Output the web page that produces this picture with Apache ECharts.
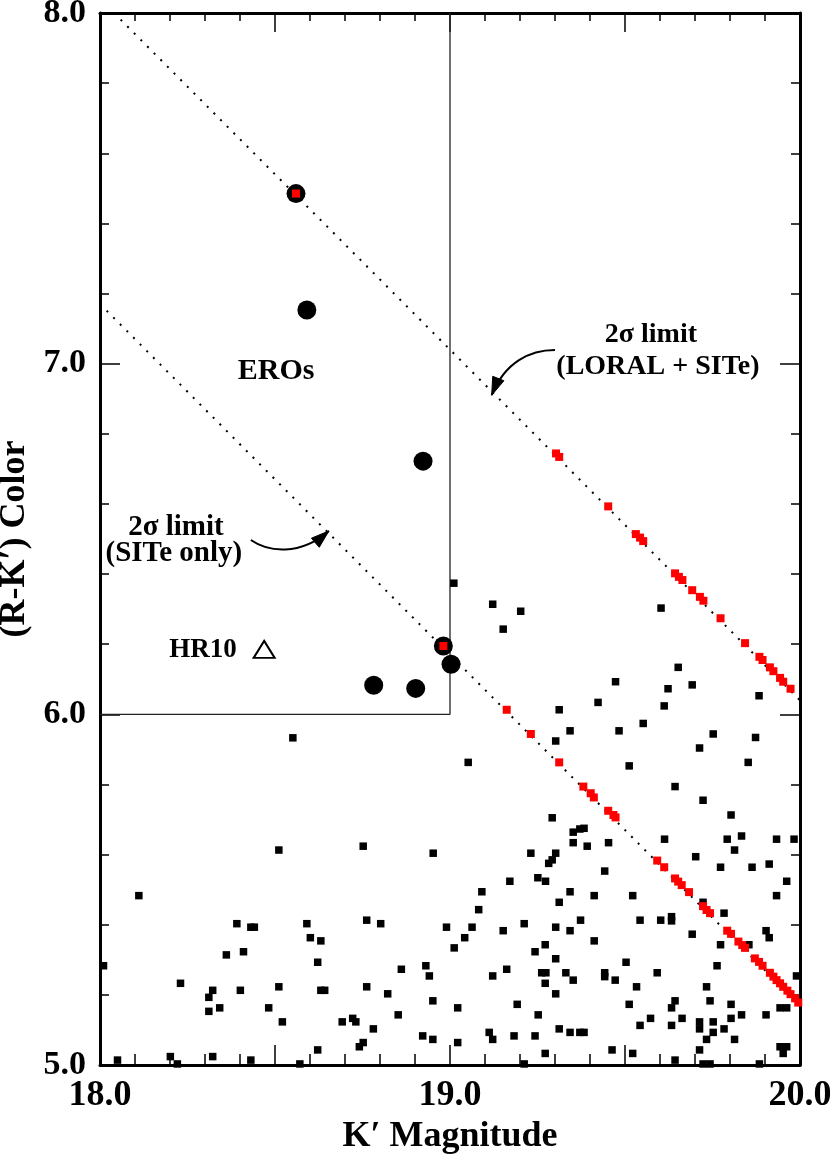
<!DOCTYPE html>
<html><head><meta charset="utf-8">
<script src="https://cdn.jsdelivr.net/npm/echarts@6/dist/echarts.min.js"></script>
<style>html,body{margin:0;padding:0;background:#fff}#c{width:830px;height:1162px}</style>
</head><body><div id="c"></div>
<script>
// ---------- data ----------
const xLabelValues = [18, 19, 20];
const xLabelTexts = ['18.0', '19.0', '20.0'];
const yLabelValues = [5, 6, 7, 8];
const yLabelTexts = ['5.0', '6.0', '7.0', '8.0'];
const xTitle = 'K\u2032 Magnitude';
const yTitle = '(R-K\u2032) Color';

// field objects (black squares): [K', R-K']
const fieldObjects = [
  [18.551,5.933],
  [19.011,6.374],[19.122,6.314],[19.202,6.294],[19.152,6.243],[19.603,6.303],[19.652,6.134],[19.623,6.073],
  [19.692,6.084],[19.883,6.053],[19.473,6.093],[19.423,6.034],[19.612,6.024],[19.312,6.013],[19.343,5.953],
  [19.483,5.953],[19.552,5.974],[19.302,5.924],[19.752,5.944],[19.873,5.934],[19.713,5.904],[19.052,5.863],
  [19.512,5.853],[19.852,5.863],[19.643,5.794],[19.723,5.755],[19.803,5.713],[19.292,5.705],
  [19.352,5.664],[19.371,5.673],[19.383,5.675],[19.352,5.634],[19.392,5.624],[19.453,5.634],[19.613,5.644],
  [19.792,5.644],[19.833,5.653],[19.813,5.613],[19.933,5.644],[19.983,5.644],[19.231,5.604],[19.302,5.604],
  [19.292,5.585],[19.282,5.575],[19.702,5.594],[19.773,5.564],[19.863,5.564],[19.912,5.573],[19.442,5.553],
  [19.171,5.524],[19.251,5.534],[19.273,5.524],[19.962,5.524],[19.091,5.494],[19.343,5.494],[19.412,5.483],
  [19.522,5.483],[19.933,5.483],[19.312,5.464],[19.082,5.443],[19.723,5.464],[19.783,5.433],[19.543,5.413],
  [19.602,5.413],[19.633,5.423],[19.633,5.411],[19.373,5.413],[18.990,5.393],[19.063,5.393],[19.042,5.363],
  [19.012,5.334],[19.152,5.383],[19.212,5.403],[19.302,5.393],[19.343,5.383],[19.412,5.354],[19.692,5.373],
  [19.903,5.383],[19.912,5.363],[19.773,5.343],[19.854,5.343],[19.272,5.343],[19.243,5.323],[19.302,5.303],
  [19.503,5.293],[19.763,5.283],[19.162,5.273],[19.122,5.254],[19.262,5.263],[19.274,5.263],[19.272,5.233],
  [19.331,5.263],[19.352,5.242],[19.442,5.263],[19.442,5.252],[19.472,5.242],[19.592,5.263],[19.990,5.254],
  [19.533,5.223],[19.733,5.223],[19.302,5.203],[19.022,5.163],[19.192,5.173],[19.512,5.173],[19.643,5.183],
  [19.633,5.163],[19.743,5.183],[19.803,5.173],[19.943,5.163],[19.962,5.163],[19.252,5.143],[19.573,5.133],
  [19.663,5.133],[19.833,5.143],[19.903,5.143],[19.803,5.133],[19.543,5.113],[19.633,5.113],[19.713,5.123],
  [19.713,5.103],[19.752,5.123],[19.752,5.093],[19.783,5.103],[19.112,5.093],[19.122,5.073],[19.183,5.083],
  [19.243,5.083],[19.312,5.103],[19.343,5.093],[19.371,5.093],[19.383,5.093],[19.733,5.073],[19.813,5.073],
  [19.022,5.064],[19.272,5.033],[19.463,5.043],[19.522,5.033],[19.713,5.043],[19.943,5.052],[19.962,5.052],
  [19.952,5.033],[19.212,5.003],[19.643,5.014],[19.723,5.003],[19.743,5.003],[19.884,5.003],
  [18.511,5.613],[18.752,5.624],[18.952,5.604],[18.111,5.483],[18.391,5.403],[18.431,5.393],[18.441,5.393],
  [18.591,5.403],[18.762,5.413],[18.802,5.403],[18.601,5.363],[18.631,5.354],[18.361,5.314],[18.410,5.323],
  [18.622,5.293],[18.010,5.283],[18.861,5.273],[18.931,5.283],[18.941,5.254],[18.230,5.233],[18.311,5.193],
  [18.322,5.213],[18.401,5.213],[18.511,5.223],[18.631,5.213],[18.642,5.213],[18.762,5.223],[18.822,5.203],
  [18.311,5.153],[18.342,5.163],[18.482,5.163],[18.951,5.183],[18.521,5.123],[18.692,5.123],[18.722,5.133],
  [18.731,5.123],[18.781,5.103],[18.852,5.143],[18.622,5.043],[18.741,5.052],[18.752,5.064],[18.922,5.083],
  [18.951,5.073],[18.050,5.014],[18.201,5.024],[18.221,5.003],[18.322,5.024],[18.431,5.014],[18.571,5.003]
];

// objects at the colour limit (red squares)
const limitObjects = [
  [19.303,6.744],[19.312,6.734],[19.452,6.593],[19.531,6.514],[19.543,6.504],[19.552,6.494],[19.643,6.402],
  [19.654,6.392],[19.664,6.383],[19.692,6.354],[19.714,6.335],[19.724,6.324],[19.773,6.274],[19.843,6.203],
  [19.884,6.164],[19.893,6.155],[19.914,6.134],[19.924,6.123],[19.943,6.104],[19.952,6.093],[19.973,6.073],
  [19.162,6.013],[19.231,5.944],[19.312,5.863],[19.381,5.794],[19.402,5.775],[19.411,5.763],[19.452,5.725],
  [19.467,5.713],[19.473,5.706],[19.592,5.583],[19.612,5.564],[19.643,5.532],[19.652,5.523],[19.662,5.513],
  [19.683,5.493],[19.723,5.453],[19.733,5.442],[19.743,5.433],[19.792,5.383],[19.803,5.374],[19.824,5.352],
  [19.835,5.342],[19.843,5.334],[19.871,5.304],[19.883,5.294],[19.893,5.283],[19.914,5.263],[19.924,5.252],
  [19.933,5.242],[19.943,5.233],[19.952,5.223],[19.964,5.212],[19.973,5.202],[19.986,5.190],[19.995,5.178]
];

// EROs (black circles) and the two that are also limits (red inside)
const eroObjects = [[18.560,7.485],[18.591,7.153],[18.923,6.722],[18.981,6.195],[19.003,6.143],[18.782,6.083],[18.902,6.074]];
const eroLimitObjects = [[18.560,7.485],[18.981,6.195]];
const hr10 = [[18.469,6.185]];

// 2-sigma limit lines and ERO region
const limitLoralSite = [[18.04,8.0],[20.0,6.04]];
const limitSiteOnly = [[18.0,7.17],[20.0,5.17]];
const eroBox = [[18.0,6.0],[19.0,6.0],[19.0,8.0]];

// annotations (data coordinates)
const annotationTexts = [
  { text: 'EROs', at: [18.503, 6.979], size: 30 },
  { text: 'HR10', at: [18.294, 6.183], size: 27 },
  { text: '2\u03c3 limit', at: [19.574, 7.082], size: 28 },
  { text: '(LORAL + SITe)', at: [19.594, 6.990], size: 28 },
  { text: '2\u03c3 limit', at: [18.217, 6.534], size: 29 },
  { text: '(SITe only)', at: [18.211, 6.460], size: 29 }
];
const arrowLoralSite = [[19.300,7.039],[19.229,7.039],[19.157,7.005],[19.119,6.910]];
const arrowSiteOnly = [[18.431,6.497],[18.480,6.463],[18.571,6.451],[18.654,6.523]];

// ---------- chart ----------
const FONT = '"Liberation Serif", "Times New Roman", serif';
const chart = echarts.init(document.getElementById('c'), null, { renderer: 'canvas' });

function xFmt(v) { const i = xLabelValues.findIndex(t => Math.abs(t - v) < 1e-6); return i >= 0 ? xLabelTexts[i] : ''; }
function yFmt(v) { const i = yLabelValues.findIndex(t => Math.abs(t - v) < 1e-6); return i >= 0 ? yLabelTexts[i] : ''; }

const axisLineStyle = { show: true, onZero: false, lineStyle: { color: '#000', width: 3 } };

function xAxisCfg(pos, main) {
  return {
    type: 'value', position: pos, min: 18, max: 20, interval: 0.5,
    axisLine: axisLineStyle,
    axisTick: { show: true, inside: true, length: pos === 'bottom' ? 20 : 19, lineStyle: { color: '#000', width: 1.5 } },
    minorTick: { show: true, splitNumber: 5, length: pos === 'bottom' ? 11 : 8, lineStyle: { color: '#000', width: 1.5 } },
    splitLine: { show: false }, minorSplitLine: { show: false },
    axisLabel: main ? { show: true, interval: 0, formatter: xFmt, fontFamily: FONT, fontWeight: 'bold', fontSize: 36, color: '#000', margin: 13, showMinLabel: true, showMaxLabel: true, hideOverlap: false } : { show: false },
    name: main ? xTitle : '', nameLocation: 'middle', nameGap: 52,
    nameTextStyle: { fontFamily: FONT, fontWeight: 'bold', fontSize: 36, color: '#000' }
  };
}
function yAxisCfg(pos, main) {
  return {
    type: 'value', position: pos, min: 5, max: 8, interval: 1,
    axisLine: axisLineStyle,
    axisTick: { show: true, inside: true, length: 20, lineStyle: { color: '#000', width: 1.5 } },
    minorTick: { show: true, splitNumber: 5, length: 9, lineStyle: { color: '#000', width: 1.5 } },
    splitLine: { show: false }, minorSplitLine: { show: false },
    axisLabel: main ? { show: true, interval: 0, formatter: yFmt, fontFamily: FONT, fontWeight: 'bold', fontSize: 34, color: '#000', margin: 14, padding: [6, 0, 0, 0], showMinLabel: true, showMaxLabel: true, hideOverlap: false } : { show: false },
    name: main ? yTitle : '', nameLocation: 'middle', nameGap: 64,
    nameTextStyle: { fontFamily: FONT, fontWeight: 'bold', fontSize: 36, color: '#000' }
  };
}

const option = {
  animation: false,
  backgroundColor: '#fff',
  grid: { left: 100, right: 30, top: 13, bottom: 97, containLabel: false, outerBoundsMode: 'none' },
  xAxis: [xAxisCfg('bottom', true), xAxisCfg('top', false)],
  yAxis: [yAxisCfg('left', true), yAxisCfg('right', false)],
  series: [
    { type: 'line', data: eroBox, symbol: 'none', silent: true, z: 1,
      lineStyle: { color: '#222', width: 1.3 } },
    { type: 'line', data: limitLoralSite, symbol: 'none', silent: true, z: 1,
      lineStyle: { color: '#000', width: 2, type: [2, 7.4] } },
    { type: 'line', data: limitSiteOnly, symbol: 'none', silent: true, z: 1,
      lineStyle: { color: '#000', width: 2, type: [2, 7.4] } },
    { type: 'scatter', data: fieldObjects, symbol: 'rect', symbolSize: 7.5, z: 3,
      itemStyle: { color: '#000', opacity: 1 } },
    { type: 'scatter', data: limitObjects, symbol: 'rect', symbolSize: 8, z: 4,
      itemStyle: { color: '#ff0000', opacity: 1 } },
    { type: 'scatter', data: eroObjects, symbol: 'circle', symbolSize: 19, z: 5,
      itemStyle: { color: '#000', opacity: 1 } },
    { type: 'scatter', data: eroLimitObjects, symbol: 'rect', symbolSize: 8, z: 6,
      itemStyle: { color: '#ff0000', opacity: 1 } },
    { type: 'scatter', data: hr10, symbol: 'triangle', symbolSize: [21, 17], z: 6,
      itemStyle: { color: '#fff', borderColor: '#000', borderWidth: 2, opacity: 1 } }
  ]
};
chart.setOption(option);

// annotations placed from data coordinates
const px = p => chart.convertToPixel({ gridIndex: 0 }, p);
const graphics = [];
annotationTexts.forEach(a => {
  const p = px(a.at);
  graphics.push({ type: 'text', x: p[0], y: p[1], z: 10, silent: true,
    style: { text: a.text, font: 'bold ' + a.size + 'px ' + FONT, fill: '#000', textAlign: 'center', textVerticalAlign: 'middle' } });
});
function arrow(pts) {
  const [p0, c1, c2, p3] = pts.map(px);
  graphics.push({ type: 'bezierCurve', z: 10, silent: true,
    shape: { x1: p0[0], y1: p0[1], cpx1: c1[0], cpy1: c1[1], cpx2: c2[0], cpy2: c2[1], x2: p3[0], y2: p3[1] },
    style: { stroke: '#000', lineWidth: 2, fill: null } });
  let dx = p3[0] - c2[0], dy = p3[1] - c2[1];
  const len = Math.hypot(dx, dy); dx /= len; dy /= len;
  const L = 18, W = 6;
  const bx = p3[0] - dx * L, by = p3[1] - dy * L;
  graphics.push({ type: 'polygon', z: 11, silent: true,
    shape: { points: [[p3[0], p3[1]], [bx - dy * W, by + dx * W], [bx + dy * W, by - dx * W]] },
    style: { fill: '#000', stroke: '#000', lineWidth: 1 } });
}
arrow(arrowLoralSite);
arrow(arrowSiteOnly);
chart.setOption({ graphic: graphics });
</script>
</body></html>
